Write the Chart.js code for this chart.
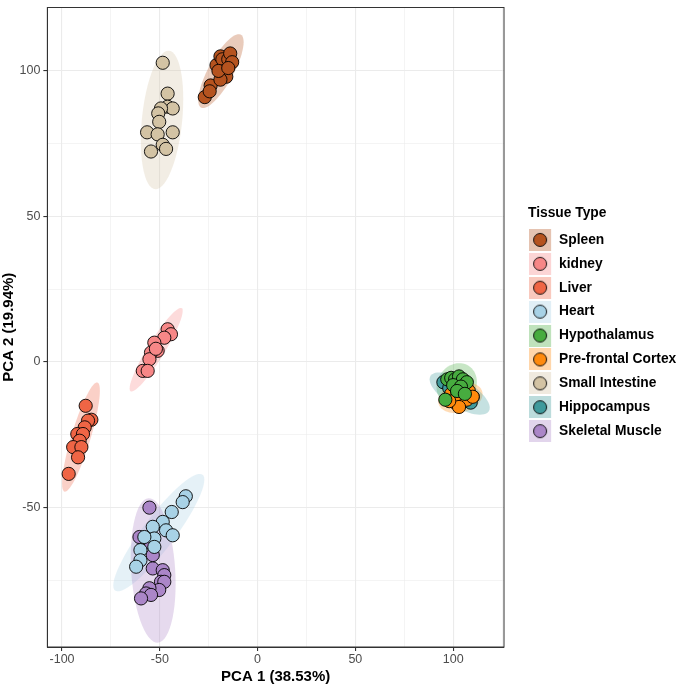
<!DOCTYPE html>
<html>
<head>
<meta charset="utf-8">
<script src="https://cdn.jsdelivr.net/npm/chart.js@4"></script>
<style>
  body { margin: 0; background: #fff; }
  #wrap { width: 677px; height: 684px; }
</style>
</head>
<body>
<div id="wrap"><canvas id="pca"></canvas></div>
<script>
// tissue groups, in legend order
const tissues = ['Spleen', 'kidney', 'Liver', 'Heart', 'Hypothalamus', 'Pre-frontal Cortex', 'Small Intestine', 'Hippocampus', 'Skeletal Muscle'];
const tissueColors = ['#b5531f', '#f78787', '#ef6545', '#a8d2e6', '#47ac3f', '#ff8a0d', '#d3c3a4', '#3f9a9c', '#ab86c8'];

// PC1 / PC2 scores per tissue
const spleenX = [-27, -24, -24.5, -21, -19, -18, -15, -14, -13, -17, -16, -19, -20, -15];
const spleenY = [91, 95, 93, 102, 105, 104, 104, 106, 103, 100, 98, 97, 100, 101];
const kidneyX = [-46, -44.3, -47.7, -52.8, -51.1, -54.5, -55.3, -58.7, -56.2, -52];
const kidneyY = [11.2, 9.5, 8.3, 6.6, 3.8, 3.2, 0.9, -3.1, -3.1, 4.5];
const liverX = [-87.9, -85, -86.7, -88.4, -92.2, -89.3, -91, -94.3, -90.1, -91.8, -96.6];
const liverY = [-15.1, -19.9, -20.2, -22.5, -24.8, -24.8, -27.1, -29.3, -29.3, -32.8, -38.5];
const heartX = [-36.7, -38.3, -43.9, -48.5, -53.6, -46.8, -43.4, -52.8, -57.9, -52.8, -59.9, -59.9, -62.1];
const heartY = [-46.2, -48.2, -51.6, -55, -56.7, -57.9, -59.6, -60.7, -60.2, -63.6, -64.7, -68.2, -70.4];
const hypothalamusX = [97, 99, 101, 103, 105, 107, 100, 104, 96, 102, 106];
const hypothalamusY = [-6, -5.5, -6, -5, -6, -7, -8, -8.5, -13, -10, -11];
const prefrontalX = [99, 102, 105, 108, 101, 104, 107, 103, 110, 98];
const prefrontalY = [-11, -10, -11, -10, -14, -13, -13, -15.5, -12, -13.5];
const intestineX = [-48.5, -46, -46, -43.4, -49.4, -50.8, -50.3, -56.5, -51.1, -43.4, -48.5, -54.5, -46.8];
const intestineY = [102.8, 92.2, 87.7, 87.1, 87.1, 85.4, 82.5, 78.9, 78.2, 78.9, 74.6, 72.3, 73.2];
const hippocampusX = [95, 98, 101, 104, 107, 110, 100, 106, 109];
const hippocampusY = [-7, -9, -9, -12, -9, -12, -12.5, -13.5, -14];
const muscleX = [-55.3, -60.4, -54.5, -53.6, -53.6, -48.5, -47.7, -49.4, -47.7, -50.3, -55.3, -57, -54.5, -59.6];
const muscleY = [-50.1, -60.2, -62.4, -66.4, -71, -71.6, -73.3, -75.6, -75.6, -78.4, -77.8, -79.6, -80.1, -81.3];

const xsByTissue = [spleenX, kidneyX, liverX, heartX, hypothalamusX, prefrontalX, intestineX, hippocampusX, muscleX];
const ysByTissue = [spleenY, kidneyY, liverY, heartY, hypothalamusY, prefrontalY, intestineY, hippocampusY, muscleY];

const xTickValues = [-100, -75, -50, -25, 0, 25, 50, 75, 100, 125];
const yTickValues = [-75, -50, -25, 0, 25, 50, 75, 100];

const FONT = "'Liberation Sans', Arial, Helvetica, sans-serif";

function rgba(hex, a) {
    const n = parseInt(hex.slice(1), 16);
    return `rgba(${(n >> 16) & 255}, ${(n >> 8) & 255}, ${n & 255}, ${a})`;
}

// 95% normal-theory ellipse (like stat_ellipse) from the group's own points
function ellipseFor(xs, ys) {
    const n = xs.length;
    const mx = xs.reduce((a, b) => a + b, 0) / n;
    const my = ys.reduce((a, b) => a + b, 0) / n;
    let sxx = 0, syy = 0, sxy = 0;
    for (let i = 0; i < n; i++) {
        sxx += (xs[i] - mx) ** 2;
        syy += (ys[i] - my) ** 2;
        sxy += (xs[i] - mx) * (ys[i] - my);
    }
    sxx /= n - 1; syy /= n - 1; sxy /= n - 1;
    const d = n - 1;
    const qf = d / 2 * (Math.pow(0.05, -2 / d) - 1);
    const r = Math.sqrt(2 * qf);
    // cholesky of covariance
    const a = Math.sqrt(sxx);
    const b = sxy / a;
    const c = Math.sqrt(Math.max(syy - b * b, 0));
    const pts = [];
    for (let k = 0; k <= 60; k++) {
        const t = k / 60 * Math.PI * 2;
        const u = Math.cos(t), v = Math.sin(t);
        pts.push([mx + r * (u * a), my + r * (u * b + v * c)]);
    }
    return pts;
}

// legend key: tinted square + filled circle (square sits at the left of a wider canvas)
function keyImage(color) {
    const cv = document.createElement('canvas');
    cv.width = 32; cv.height = 22;
    const g = cv.getContext('2d');
    g.fillStyle = rgba(color, 0.35);
    g.fillRect(0, 0, 22, 22);
    g.beginPath();
    g.arc(11, 11, 6.5, 0, Math.PI * 2);
    g.fillStyle = color;
    g.fill();
    g.lineWidth = 0.9;
    g.strokeStyle = '#000';
    g.stroke();
    return cv;
}
const keyImages = tissueColors.map(keyImage);

const ellipsePlugin = {
    id: 'ellipses',
    beforeDatasetsDraw(chart) {
        const {ctx, chartArea, scales} = chart;
        ctx.save();
        ctx.beginPath();
        ctx.rect(chartArea.left, chartArea.top, chartArea.right - chartArea.left, chartArea.bottom - chartArea.top);
        ctx.clip();
        tissues.forEach((t, i) => {
            const pts = ellipseFor(xsByTissue[i], ysByTissue[i]);
            ctx.beginPath();
            pts.forEach((p, k) => {
                const px = scales.x.getPixelForValue(p[0]);
                const py = scales.y.getPixelForValue(p[1]);
                if (k === 0) ctx.moveTo(px, py); else ctx.lineTo(px, py);
            });
            ctx.closePath();
            ctx.fillStyle = rgba(tissueColors[i], 0.3);
            ctx.fill();
        });
        ctx.restore();
    },
    afterDraw(chart) {
        const {ctx, chartArea} = chart;
        ctx.save();
        ctx.strokeStyle = '#333333';
        ctx.lineWidth = 1;
        ctx.strokeRect(chartArea.left, chartArea.top, chartArea.right - chartArea.left, chartArea.bottom - chartArea.top);
        ctx.restore();
    }
};

const datasets = tissues.map((t, i) => ({
    label: t,
    data: xsByTissue[i].map((x, k) => ({x: x, y: ysByTissue[i][k]})),
    backgroundColor: tissueColors[i],
    borderColor: '#000000',
    borderWidth: 0.9,
    pointStyle: 'circle',
    pointRadius: 6.6,
    pointHoverRadius: 6.6
}));

function gridOpts() {
    return {
        color: '#ebebeb',
        lineWidth: c => (c.tick && c.tick.value % 50 === 0) ? 1.1 : 0.55,
        tickColor: c => (c.tick && c.tick.value % 50 === 0) ? '#333333' : 'rgba(0,0,0,0)',
        tickLength: 4
    };
}

new Chart(document.getElementById('pca'), {
    type: 'scatter',
    data: {datasets: datasets},
    options: {
        responsive: true,
        maintainAspectRatio: false,
        animation: false,
        layout: {padding: {top: 6, right: 0, bottom: 0, left: 0}},
        scales: {
            x: {
                type: 'linear',
                min: -107.5,
                max: 126,
                afterBuildTicks: s => { s.ticks = xTickValues.map(v => ({value: v})); },
                grid: gridOpts(),
                border: {display: true, color: '#333333', width: 1},
                ticks: {
                    autoSkip: false,
                    maxRotation: 0,
                    color: '#4d4d4d',
                    font: {family: FONT, size: 12.5},
                    padding: 1.5,
                    callback: v => v % 50 === 0 ? v : ''
                },
                title: {display: true, text: 'PCA 1 (38.53%)', color: '#000', font: {family: FONT, size: 15, weight: 'bold', lineHeight: 1}, padding: {top: 0, bottom: 0}}
            },
            y: {
                type: 'linear',
                min: -98,
                max: 121.8,
                afterBuildTicks: s => { s.ticks = yTickValues.map(v => ({value: v})); },
                afterFit: s => { s.paddingTop = 0; s.paddingBottom = 0; },
                grid: gridOpts(),
                border: {display: true, color: '#333333', width: 1},
                ticks: {
                    autoSkip: false,
                    color: '#4d4d4d',
                    font: {family: FONT, size: 12.5},
                    padding: 3,
                    callback: v => v % 50 === 0 ? v : ''
                },
                title: {display: true, text: 'PCA 2 (19.94%)', color: '#000', font: {family: FONT, size: 15, weight: 'bold', lineHeight: 1}, padding: {top: 1.5, bottom: 0}}
            },
            // empty strip between the panel and the legend
            gap: {
                type: 'linear',
                position: 'right',
                grid: {display: false, drawTicks: false},
                border: {display: false},
                ticks: {display: false},
                afterFit: s => { s.width = 24; s.paddingTop = 0; s.paddingBottom = 0; }
            }
        },
        plugins: {
            tooltip: {enabled: false},
            legend: {
                position: 'right',
                fullSize: false,
                maxWidth: 149,
                labels: {
                    usePointStyle: true,
                    pointStyleWidth: 14,
                    color: '#000',
                    font: {family: FONT, size: 13.8, weight: 'bold'},
                    padding: 10.1,
                    generateLabels: chart => Chart.defaults.plugins.legend.labels.generateLabels(chart)
                        .map(l => Object.assign(l, {pointStyle: keyImages[l.datasetIndex]}))
                },
                title: {
                    display: true,
                    text: 'Tissue Type',
                    position: 'start',
                    color: '#000',
                    font: {family: FONT, size: 13.8, weight: 'bold'},
                    padding: {top: 0, bottom: 0}
                }
            }
        }
    },
    plugins: [ellipsePlugin]
});
</script>
</body>
</html>
